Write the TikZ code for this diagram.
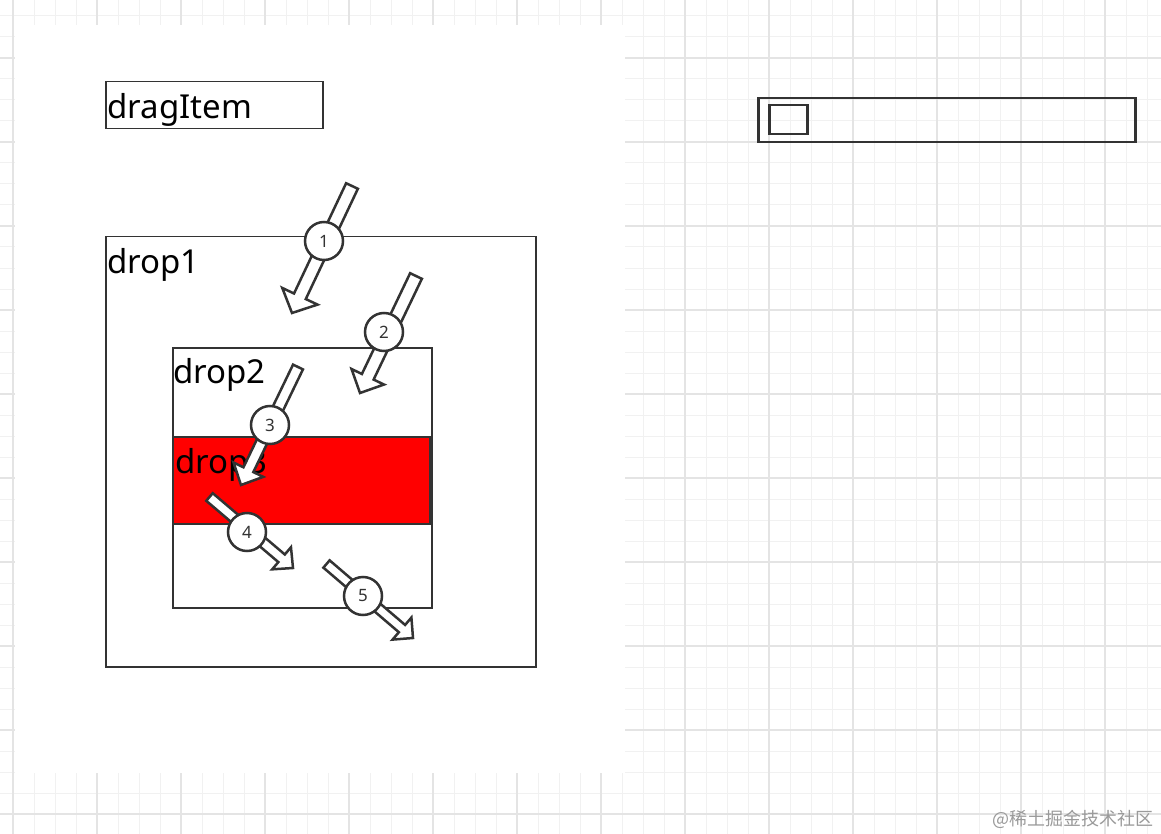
\documentclass[tikz,border=0pt]{standalone}
\usepackage{fontspec}
\setmainfont{Noto Sans}
\newfontfamily\cjk{Noto Sans CJK SC}
\usetikzlibrary{calc}
\definecolor{ink}{HTML}{333333}
\definecolor{gridminor}{HTML}{F1F1F1}
\definecolor{gridmajor}{HTML}{E4E4E4}
\definecolor{wmgray}{HTML}{9A9A9A}
\definecolor{dropred}{HTML}{FF0000}
\tikzset{
  box/.style={draw=ink, line width=1.5pt, inner sep=0pt, anchor=north west},
  lbl/.style={anchor=base west, inner sep=0pt, font=\fontsize{33}{38}\selectfont, text=black},
  blockar/.style={draw=ink, fill=white, line width=2.5pt, line join=miter},
  num/.style={circle, draw=ink, fill=white, line width=2.5pt, minimum size=38pt, inner sep=0pt, font=\fontsize{17}{19}\selectfont, text=ink},
}
% name, tail, tip, shaft half width, head half width, head length
\newcommand{\blockarrow}[6]{%
  \coordinate (#1t) at #2;
  \coordinate (#1h) at #3;
  \coordinate (#1b) at ($(#1h)!#6pt!(#1t)$);
  \draw[blockar] ($(#1t)!#4pt!90:(#1h)$) -- ($(#1b)!#4pt!-90:(#1t)$) -- ($(#1b)!#5pt!-90:(#1t)$) -- (#1h) -- ($(#1b)!#5pt!90:(#1t)$) -- ($(#1b)!#4pt!90:(#1t)$) -- ($(#1t)!#4pt!-90:(#1h)$) -- cycle;
}
\begin{document}
\begin{tikzpicture}[x=1pt, y=-1pt]
\useasboundingbox (0,0) rectangle (1161,834);
\fill[white] (0,0) rectangle (1161,834);
% grid
\foreach \i in {0,...,54} \draw[gridminor, line width=1pt] ({13+21*\i},0) -- ({13+21*\i},834);
\foreach \j in {0,...,38} \draw[gridminor, line width=1pt] (0,{16+21*\j}) -- (1161,{16+21*\j});
\foreach \i in {0,...,13} \draw[gridmajor, line width=1.2pt] ({13+84*\i},0) -- ({13+84*\i},834);
\foreach \j in {0,...,9} \draw[gridmajor, line width=1.2pt] (0,{58+84*\j}) -- (1161,{58+84*\j});
% white canvas area
\fill[white] (15,25) rectangle (625,773);

% boxes
\node[box, minimum width=217pt, minimum height=47pt] (dragitem) at (105,81) {};
\node[box, fill=white, minimum width=430pt, minimum height=430pt] (drop1) at (105,236) {};
\node[box, fill=white, minimum width=259pt, minimum height=260pt] (drop2) at (172,347) {};
\node[box, fill=dropred, minimum width=257pt, minimum height=87pt] (drop3) at (172,436) {};

% labels
\node[lbl] (tdrag) at (107,119) {dragItem};
\node[lbl] (tdrop1) at (107,273) {drop1};
\node[lbl] (tdrop2) at (173,383) {drop2};
\node[lbl] (tdrop3) at (175,473) {drop3};

% right bar
\node[box, line width=2.5pt, minimum width=377pt, minimum height=44pt] (bar) at (757,97) {};
\node[box, line width=2.5pt, minimum width=38pt, minimum height=29pt] (barknob) at (768,104) {};

% block arrows
\blockarrow{a1}{(352,186)}{(292,313)}{6.5}{19.5}{18.5}
\blockarrow{a2}{(416,276)}{(360,393)}{6.5}{18}{18}
\blockarrow{a3}{(298,367)}{(241,485)}{5.5}{16.5}{17}
\blockarrow{a4}{(209.5,497)}{(293,568)}{5}{14.5}{15}
\blockarrow{a5}{(326.5,564)}{(413,638)}{4.8}{14.5}{14.5}

% numbered circles
\node[num] (n1) at (324,241) {1};
\node[num] (n2) at (384,332) {2};
\node[num] (n3) at (270,425) {3};
\node[num] (n4) at (247,532) {4};
\node[num] (n5) at (363,596) {5};

% watermark
\node[anchor=base east, inner sep=0pt, font=\cjk\fontsize{18}{21}\selectfont, text=wmgray] (wm) at (1154,825) {@稀土掘金技术社区};
\end{tikzpicture}
\end{document}
